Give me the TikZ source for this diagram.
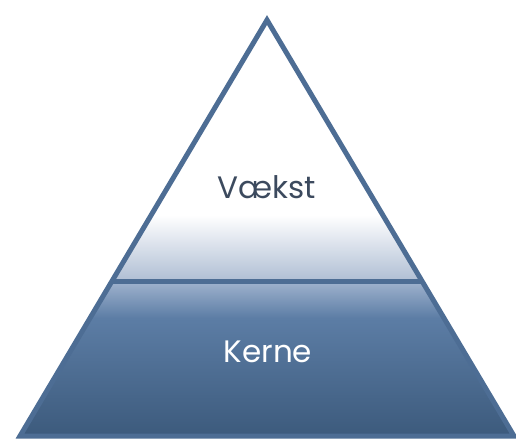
\documentclass[tikz,border=0pt]{standalone}
\usepackage{fontspec}
\setmainfont{Poppins}
\definecolor{edge}{HTML}{4D6D94}
\definecolor{topfade}{HTML}{AEBDD3}
\definecolor{bandtop}{HTML}{A0B3CE}
\definecolor{midblue}{HTML}{5C7DA5}
\definecolor{lowblue}{HTML}{3C5A7C}
\definecolor{vtext}{HTML}{3C4A5E}
\tikzset{
  outline/.style={draw=edge, line width=5pt, line join=miter},
  label/.style={font=\fontsize{31}{36}\selectfont, inner sep=0pt, anchor=center}
}
\begin{document}
\begin{tikzpicture}[x=1pt, y=-1pt]
\useasboundingbox (0,0) rectangle (516,439);
\coordinate (apex) at (267,20);
\coordinate (bl) at (20,436);
\coordinate (br) at (514,436);
\coordinate (dl) at (112,281);
\coordinate (dr) at (422,281);
% upper part
\begin{scope}
  \clip (apex) -- (dl) -- (dr) -- cycle;
  \fill[white] (0,0) rectangle (516,215);
  \shade[top color=white, bottom color=topfade] (0,215) rectangle (516,282);
\end{scope}
% lower part
\begin{scope}
  \clip (dl) -- (bl) -- (br) -- (dr) -- cycle;
  \shade[top color=bandtop, bottom color=midblue] (0,281) rectangle (516,318);
  \shade[top color=midblue, bottom color=lowblue] (0,318) rectangle (516,437);
\end{scope}
\draw[outline] (apex) -- (bl) -- (br) -- cycle;
\draw[outline] (dl) -- (dr);
\node[label, text=vtext] (vaekst) at (267,187) {Vækst};
\node[label, text=white] (kerne) at (268,352) {Kerne};
\end{tikzpicture}
\end{document}
